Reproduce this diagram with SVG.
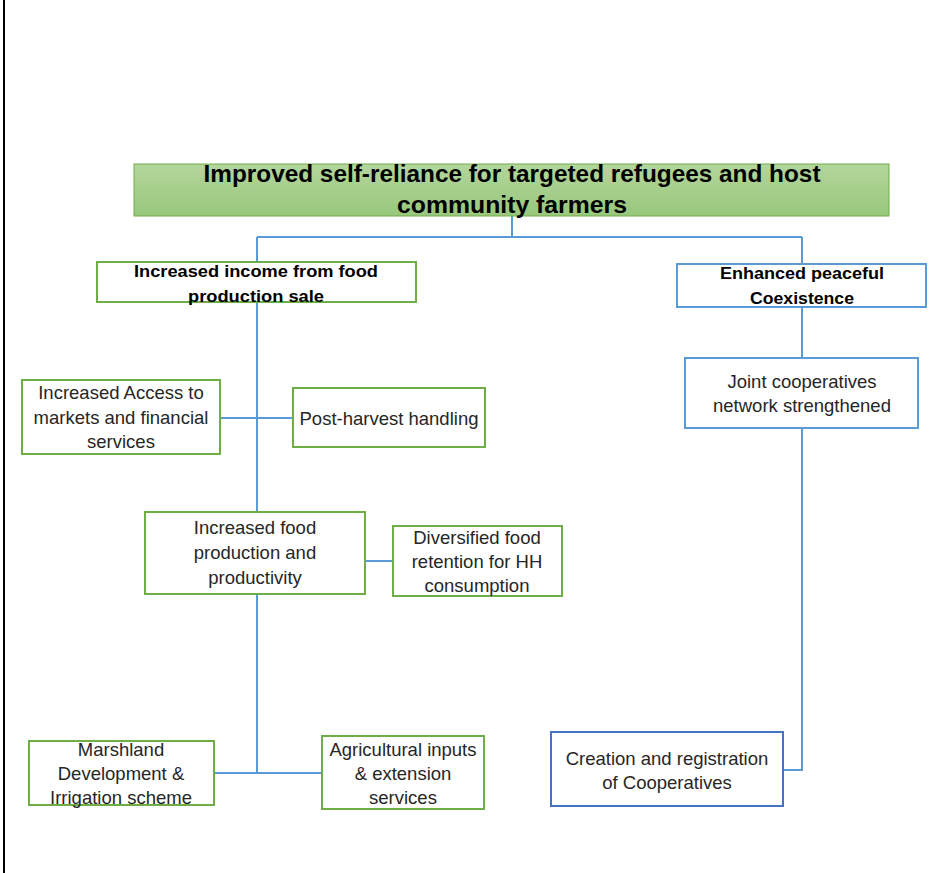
<svg xmlns="http://www.w3.org/2000/svg" width="934" height="873" viewBox="0 0 934 873">
<defs>
<linearGradient id="tg" x1="0" y1="0" x2="0" y2="1">
<stop offset="0" stop-color="#b3d69c"/>
<stop offset="1" stop-color="#98c77c"/>
</linearGradient>
<style>
.g{fill:#fff;stroke:#70ad47;stroke-width:2}
.b{fill:#fff;stroke:#5b9bd5;stroke-width:2}
.b2{fill:#fff;stroke:#4472c4;stroke-width:2}
.c{fill:none;stroke:#5b9bd5;stroke-width:2}
text{font-family:"Liberation Sans",Arial,sans-serif;font-size:18.5px;fill:#262626;text-anchor:middle;dominant-baseline:central}
.bd{font-weight:bold;font-size:16px;fill:#000}
.t{font-weight:bold;font-size:24px;fill:#000}
</style>
</defs>
<rect width="934" height="873" fill="#fff"/>
<line x1="4" y1="0" x2="4" y2="873" stroke="#000" stroke-width="2"/>
<g id="connectors">
<path class="c" d="M512 216V237M257 237H802M257 237V262M802 237V264"/>
<path class="c" d="M802 307V358M802 428V770H783"/>
<path class="c" d="M257 302V512M220 418H293"/>
<path class="c" d="M365 561H393M257 594V773M214 773H322"/>
</g>
<g id="goal">
<rect x="134" y="164" width="755" height="52" fill="url(#tg)" stroke="#70ad47" stroke-width="1"/>
<text class="t" x="512" y="173" textLength="617" lengthAdjust="spacingAndGlyphs">Improved self-reliance for targeted refugees and host</text>
<text class="t" x="512" y="204" textLength="230" lengthAdjust="spacingAndGlyphs">community farmers</text>
</g>
<g id="income">
<rect class="g" x="97" y="262" width="319" height="40"/>
<text class="bd" x="256" y="271" textLength="244" lengthAdjust="spacingAndGlyphs">Increased income from food</text>
<text class="bd" x="256" y="296" textLength="136" lengthAdjust="spacingAndGlyphs">production sale</text>
</g>
<g id="coexistence">
<rect class="b" x="677" y="264" width="249" height="43"/>
<text class="bd" x="802" y="273" textLength="164" lengthAdjust="spacingAndGlyphs">Enhanced peaceful</text>
<text class="bd" x="802" y="298" textLength="104" lengthAdjust="spacingAndGlyphs">Coexistence</text>
</g>
<g id="joint">
<rect class="b" x="685" y="358" width="233" height="70"/>
<text x="802" y="381">Joint cooperatives</text>
<text x="802" y="405">network strengthened</text>
</g>
<g id="creation">
<rect class="b2" x="551" y="732" width="232" height="74"/>
<text x="667" y="758">Creation and registration</text>
<text x="667" y="782">of Cooperatives</text>
</g>
<g id="access">
<rect class="g" x="22" y="380" width="198" height="74"/>
<text x="121" y="392">Increased Access to</text>
<text x="121" y="417">markets and financial</text>
<text x="121" y="441">services</text>
</g>
<g id="postharvest">
<rect class="g" x="293" y="388" width="192" height="59"/>
<text x="389" y="418">Post-harvest handling</text>
</g>
<g id="foodprod">
<rect class="g" x="145" y="512" width="220" height="82"/>
<text x="255" y="527">Increased food</text>
<text x="255" y="552">production and</text>
<text x="255" y="577">productivity</text>
</g>
<g id="diversified">
<rect class="g" x="393" y="526" width="169" height="70"/>
<text x="477" y="537">Diversified food</text>
<text x="477" y="561">retention for HH</text>
<text x="477" y="585">consumption</text>
</g>
<g id="marshland">
<rect class="g" x="29" y="741" width="185" height="64"/>
<text x="121" y="749">Marshland</text>
<text x="121" y="773">Development &amp;</text>
<text x="121" y="797">Irrigation scheme</text>
</g>
<g id="agri">
<rect class="g" x="322" y="736" width="162" height="73"/>
<text x="403" y="749">Agricultural inputs</text>
<text x="403" y="773">&amp; extension</text>
<text x="403" y="797">services</text>
</g>
</svg>
